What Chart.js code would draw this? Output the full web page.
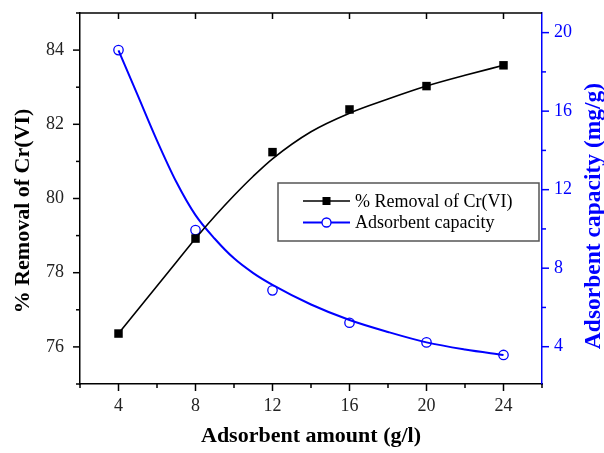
<!DOCTYPE html>
<html>
<head>
<meta charset="utf-8">
<script src="https://cdn.jsdelivr.net/npm/chart.js@4"></script>
<style>
  html, body { margin: 0; padding: 0; background: #fff; }
  canvas { display: block; }
</style>
</head>
<body>
<canvas id="c" width="604" height="453"></canvas>
<script>
// ---- data ----
const dose = [4, 8, 12, 16, 20, 24];                       // g/l
const removal = [76.36, 78.92, 81.25, 82.40, 83.03, 83.59]; // %
const capacity = [19.11, 9.94, 6.87, 5.22, 4.22, 3.58];     // mg/g
// smooth curves as drawn in the reference
const fitDose = [4, 5, 6, 7, 8, 9, 10, 11, 12, 14, 16, 18, 20, 22, 24];
const removalFit = [76.36, 77.0, 77.64, 78.28, 78.92, 79.52, 80.08, 80.6, 81.07, 81.8, 82.3, 82.68, 83.03, 83.32, 83.59];
const capacityFit = [19.1, 16.8, 14.5, 12.4, 10.7, 9.5, 8.5, 7.75, 7.15, 6.15, 5.36, 4.75, 4.22, 3.86, 3.58];
const xTicks = [4, 8, 12, 16, 20, 24];
const xMinor = [2, 6, 10, 14, 18, 22, 26];
const yLeftTicks = [76, 78, 80, 82, 84];
const yLeftMinor = [75, 77, 79, 81, 83, 85];
const yRightTicks = [4, 8, 12, 16, 20];
const yRightMinor = [6, 10, 14, 18];
const seriesNames = ['% Removal of Cr(VI)', 'Adsorbent capacity'];
const axisTitles = { x: 'Adsorbent amount (g/l)', y: '% Removal of Cr(VI)', y1: 'Adsorbent capacity (mg/g)' };

const BLUE = '#0000ff';
const SERIF = '"Liberation Serif", "Times New Roman", serif';

const pts = (xs, ys) => xs.map((x, i) => ({ x: x, y: ys[i] }));

const tickPlugin = {
  id: 'ticksAndFrame',
  afterDraw(chart) {
    const { ctx, chartArea: ca, scales } = chart;
    const x = scales.x, yl = scales.y, yr = scales.y1;
    ctx.save();
    ctx.lineWidth = 1.5;
    ctx.strokeStyle = '#000';
    const line = (x1, y1, x2, y2) => { ctx.beginPath(); ctx.moveTo(x1, y1); ctx.lineTo(x2, y2); ctx.stroke(); };
    line(ca.left, ca.top, ca.right, ca.top);
    xTicks.forEach(v => { const p = x.getPixelForValue(v); line(p, ca.bottom, p, ca.bottom + 7); line(p, ca.top, p, ca.top + 6); });
    xMinor.forEach(v => { const p = x.getPixelForValue(v); line(p, ca.bottom, p, ca.bottom + 4); });
    yLeftTicks.forEach(v => { const p = yl.getPixelForValue(v); line(ca.left - 7, p, ca.left, p); });
    yLeftMinor.forEach(v => { const p = yl.getPixelForValue(v); line(ca.left - 4, p, ca.left, p); });
    ctx.strokeStyle = BLUE;
    yRightTicks.forEach(v => { const p = yr.getPixelForValue(v); line(ca.right, p, ca.right + 7, p); });
    yRightMinor.forEach(v => { const p = yr.getPixelForValue(v); line(ca.right, p, ca.right + 4, p); });

    ctx.textAlign = 'center';
    ctx.textBaseline = 'middle';
    const vtitle = (text, cx, cy, color, size) => {
      ctx.save();
      ctx.translate(cx, cy);
      ctx.rotate(-Math.PI / 2);
      ctx.font = 'bold ' + size + 'px ' + SERIF;
      ctx.fillStyle = color;
      ctx.fillText(text, 0, 0);
      ctx.restore();
    };
    vtitle(axisTitles.y, 23, 211, '#000', 22);
    vtitle(axisTitles.y1, 594, 216, BLUE, 23.5);
    ctx.restore();
  }
};

const legendPlugin = {
  id: 'boxLegend',
  afterDatasetsDraw(chart) {
    const { ctx } = chart;
    ctx.save();
    ctx.strokeStyle = '#555';
    ctx.lineWidth = 1.5;
    ctx.strokeRect(278, 183, 261, 58);
    const rows = [
      { y: 201, color: '#000', marker: 'square', text: seriesNames[0] },
      { y: 222.5, color: BLUE, marker: 'circle', text: seriesNames[1] }
    ];
    rows.forEach(r => {
      ctx.strokeStyle = r.color;
      ctx.lineWidth = r.color === BLUE ? 2 : 1.6;
      ctx.beginPath(); ctx.moveTo(303, r.y); ctx.lineTo(350, r.y); ctx.stroke();
      if (r.marker === 'square') {
        ctx.fillStyle = '#000';
        ctx.fillRect(326.5 - 4, r.y - 4, 8, 8);
      } else {
        ctx.fillStyle = '#fff';
        ctx.lineWidth = 1.3;
        ctx.beginPath(); ctx.arc(326.5, r.y, 4.5, 0, Math.PI * 2); ctx.fill(); ctx.stroke();
      }
      ctx.fillStyle = '#000';
      ctx.font = '18px ' + SERIF;
      ctx.textBaseline = 'middle';
      ctx.textAlign = 'left';
      ctx.fillText(r.text, 355, r.y + 1);
    });
    ctx.restore();
  }
};

const noPadY = (w) => (s) => { s.width = w; s.paddingTop = 0; s.paddingBottom = 0; };

new Chart(document.getElementById('c'), {
  type: 'line',
  data: {
    datasets: [
      { label: seriesNames[0] + ' curve', data: pts(fitDose, removalFit), yAxisID: 'y', borderColor: '#000', borderWidth: 1.6, pointRadius: 0, cubicInterpolationMode: 'monotone', fill: false },
      { label: seriesNames[1] + ' curve', data: pts(fitDose, capacityFit), yAxisID: 'y1', borderColor: BLUE, borderWidth: 2, pointRadius: 0, cubicInterpolationMode: 'monotone', fill: false },
      { label: seriesNames[0], data: pts(dose, removal), yAxisID: 'y', showLine: false, pointStyle: 'rect', pointRadius: 6, backgroundColor: '#000', borderColor: '#000', borderWidth: 0 },
      { label: seriesNames[1], data: pts(dose, capacity), yAxisID: 'y1', showLine: false, pointStyle: 'circle', pointRadius: 4.7, backgroundColor: '#fff', borderColor: BLUE, borderWidth: 1.3 }
    ]
  },
  options: {
    responsive: false,
    devicePixelRatio: 1,
    animation: false,
    layout: { padding: { top: 13, left: 0, right: 0, bottom: 0 } },
    plugins: { legend: { display: false }, tooltip: { enabled: false } },
    scales: {
      x: {
        type: 'linear', position: 'bottom', min: 2, max: 26,
        afterFit: s => { s.height = 69; s.paddingLeft = 0; s.paddingRight = 0; },
        afterBuildTicks: s => { s.ticks = xTicks.map(v => ({ value: v })); },
        grid: { display: false, drawTicks: false },
        border: { display: true, color: '#000', width: 1.5 },
        ticks: { color: '#222', font: { family: SERIF, size: 18 }, padding: 11, maxRotation: 0 },
        title: { display: true, text: axisTitles.x, color: '#000', font: { family: SERIF, size: 22, weight: 'bold' }, padding: { top: 0, bottom: 3 } }
      },
      y: {
        type: 'linear', position: 'left', min: 75, max: 85,
        afterFit: noPadY(80),
        afterBuildTicks: s => { s.ticks = yLeftTicks.map(v => ({ value: v })); },
        grid: { display: false, drawTicks: false },
        border: { display: true, color: '#000', width: 1.5 },
        ticks: { color: '#222', font: { family: SERIF, size: 18 }, padding: 16 },
        title: { display: false }
      },
      y1: {
        type: 'linear', position: 'right', min: 2.1, max: 21,
        afterFit: noPadY(62),
        afterBuildTicks: s => { s.ticks = yRightTicks.map(v => ({ value: v })); },
        grid: { display: false, drawTicks: false },
        border: { display: true, color: BLUE, width: 1.5 },
        ticks: { color: BLUE, font: { family: SERIF, size: 18 }, padding: 12 },
        title: { display: false }
      }
    }
  },
  plugins: [tickPlugin, legendPlugin]
});
</script>
</body>
</html>
